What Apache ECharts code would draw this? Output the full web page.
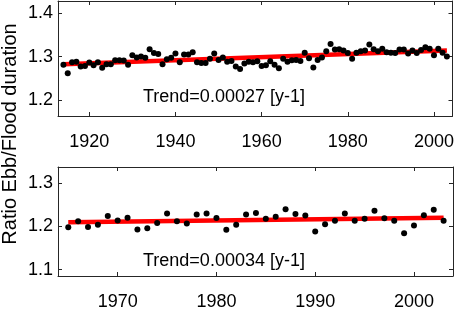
<!DOCTYPE html>
<html>
<head>
<meta charset="UTF-8">
<title>Ratio Ebb/Flood duration</title>
<script src="https://cdn.jsdelivr.net/npm/echarts@6/dist/echarts.min.js"></script>
<style>
  html, body { margin: 0; padding: 0; background: #fff; }
  #main { width: 457px; height: 311px; }
</style>
</head>
<body>
<div id="main"></div>
<script type="text/javascript">
// top panel: yearly values 1914-2003
var topStartYear = 1914;
var topValues = [
  1.281, 1.2615, 1.287, 1.288, 1.277, 1.278, 1.286, 1.280, 1.287, 1.274,
  1.282, 1.282, 1.2915, 1.2915, 1.291, 1.281, 1.303, 1.298, 1.300, 1.297,
  1.317, 1.308, 1.306, 1.282, 1.294, 1.297, 1.307, 1.287, 1.305, 1.305,
  1.310, 1.287, 1.285, 1.285, 1.295, 1.307, 1.292, 1.298, 1.288, 1.290,
  1.277, 1.2715, 1.284, 1.288, 1.287, 1.289, 1.278, 1.280, 1.289, 1.281,
  1.273, 1.295, 1.288, 1.2915, 1.292, 1.290, 1.309, 1.296, 1.275, 1.292,
  1.298, 1.312, 1.329, 1.316, 1.317, 1.314, 1.308, 1.295, 1.309, 1.312,
  1.314, 1.328, 1.317, 1.312, 1.318, 1.310, 1.309, 1.308, 1.316, 1.316,
  1.307, 1.314, 1.308, 1.315, 1.3215, 1.318, 1.303, 1.318, 1.309, 1.300
];
var topTrendYears = [1914, 2003];
var topTrendValues = [1.282, 1.314];

// bottom panel: yearly values 1965-2003
var botStartYear = 1965;
var botValues = [
  1.198, 1.212, 1.1985, 1.204, 1.224, 1.214, 1.220, 1.193, 1.196, 1.208,
  1.230, 1.212, 1.207, 1.228, 1.230, 1.2195, 1.1925, 1.204, 1.228, 1.2315,
  1.218, 1.2225, 1.240, 1.229, 1.2255, 1.188, 1.205, 1.2135, 1.230, 1.2135,
  1.218, 1.2365, 1.219, 1.213, 1.184, 1.202, 1.226, 1.239, 1.213
];
var botTrendYears = [1965, 2003];
var botTrendValues = [1.2097, 1.220];

// tick labels
var topXTicks = [1920, 1940, 1960, 1980, 2000];
var topYTicks = [1.2, 1.3, 1.4];
var botXTicks = [1970, 1980, 1990, 2000];
var botYTicks = [1.1, 1.2, 1.3];

var topText = 'Trend=0.00027 [y-1]';
var botText = 'Trend=0.00034 [y-1]';
var yTitle = 'Ratio Ebb/Flood duration';

function pairs(start, vals) {
  var out = [];
  for (var i = 0; i < vals.length; i++) out.push([start + i, vals[i]]);
  return out;
}
function zip(xs, ys) {
  var out = [];
  for (var i = 0; i < xs.length; i++) out.push([xs[i], ys[i]]);
  return out;
}

var font = 'Liberation Sans, Arial, sans-serif';
var frameColor = '#262626';

// one side of the box; labels only on bottom and left
function axis(gridIndex, position, min, max, ticks, showLabel) {
  return {
    type: 'value',
    gridIndex: gridIndex,
    position: position,
    min: min,
    max: max,
    splitLine: { show: false },
    axisLine: { show: true, onZero: false, lineStyle: { color: frameColor, width: 1 } },
    axisTick: { show: true, inside: true, length: 4, customValues: ticks, lineStyle: { color: frameColor } },
    axisLabel: {
      show: showLabel,
      customValues: ticks,
      margin: (position === 'bottom') ? 17 : 5,
      color: '#000',
      fontSize: 18,
      fontFamily: font,
      formatter: function (v) { return String(v); }
    }
  };
}

var chart = echarts.init(document.getElementById('main'));
var option = {
  animation: false,
  backgroundColor: '#fff',
  grid: [
    { left: 58, top: 1, right: 4, height: 115 },
    { left: 58, top: 167, right: 4, height: 114 }
  ],
  xAxis: [
    axis(0, 'bottom', 1912.74, 2004.3, topXTicks, true),
    axis(0, 'top', 1912.74, 2004.3, topXTicks, false),
    axis(1, 'bottom', 1963.96, 2003.95, botXTicks, true),
    axis(1, 'top', 1963.96, 2003.95, botXTicks, false)
  ],
  yAxis: [
    axis(0, 'left', 1.163, 1.428, topYTicks, true),
    axis(0, 'right', 1.163, 1.428, topYTicks, false),
    axis(1, 'left', 1.085, 1.338, botYTicks, true),
    axis(1, 'right', 1.085, 1.338, botYTicks, false)
  ],
  series: [
    {
      type: 'line', xAxisIndex: 0, yAxisIndex: 0, data: zip(topTrendYears, topTrendValues),
      symbol: 'none', lineStyle: { color: '#ff0000', width: 4.5 }, z: 2
    },
    {
      type: 'scatter', xAxisIndex: 0, yAxisIndex: 0, data: pairs(topStartYear, topValues),
      symbolSize: 6, itemStyle: { color: '#000', opacity: 1 }, z: 3
    },
    {
      type: 'line', xAxisIndex: 2, yAxisIndex: 2, data: zip(botTrendYears, botTrendValues),
      symbol: 'none', lineStyle: { color: '#ff0000', width: 4.5 }, z: 2
    },
    {
      type: 'scatter', xAxisIndex: 2, yAxisIndex: 2, data: pairs(botStartYear, botValues),
      symbolSize: 6, itemStyle: { color: '#000', opacity: 1 }, z: 3
    }
  ],
  graphic: [
    {
      type: 'text', left: 143, top: 88,
      style: { text: topText, fontSize: 18, fontFamily: font, fill: '#000' }
    },
    {
      type: 'text', left: 143, top: 252,
      style: { text: botText, fontSize: 18, fontFamily: font, fill: '#000' }
    },
    {
      type: 'text', x: 10, y: 134, rotation: Math.PI / 2,
      style: { text: yTitle, fontSize: 20, fontFamily: font, fill: '#000', align: 'center', verticalAlign: 'middle' }
    }
  ]
};
chart.setOption(option);
</script>
</body>
</html>
